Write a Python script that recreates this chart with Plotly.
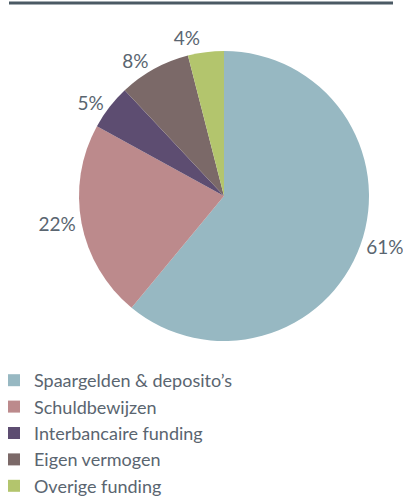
import plotly.graph_objects as go

categories = ["Spaargelden &amp; deposito’s", "Schuldbewijzen", "Interbancaire funding",
              "Eigen vermogen", "Overige funding"]
values = [61, 22, 5, 8, 4]
colors = ["#97b8c2", "#bc8a8c", "#5d4d71", "#7b6968", "#b3c56d"]

W, H = 403, 497
cx, cy, r = 224, 196, 145

fig = go.Figure(go.Pie(
    labels=categories,
    values=values,
    sort=False,
    direction="clockwise",
    rotation=0,
    marker=dict(colors=colors, line=dict(width=0)),
    texttemplate="%{value}%",
    textposition="outside",
    textfont=dict(size=19, color="#5a6570"),
    hoverinfo="none",
    automargin=False,
    domain=dict(x=[(cx - r) / W, (cx + r) / W], y=[1 - (cy + r) / H, 1 - (cy - r) / H]),
))

fig.add_shape(type="line", xref="paper", yref="paper",
              x0=9 / W, x1=393 / W, y0=1 - 3 / H, y1=1 - 3 / H,
              line=dict(color="#4b5a64", width=3))

fig.update_layout(
    width=W, height=H,
    margin=dict(l=0, r=0, t=0, b=0, autoexpand=False),
    paper_bgcolor="white",
    plot_bgcolor="white",
    font=dict(family="Lato", color="#5a6570"),
    showlegend=True,
    legend=dict(x=-6 / W, y=1 - 362 / H, xanchor="left", yanchor="top",
                font=dict(size=18, color="#5a6570"), bgcolor="rgba(0,0,0,0)"),
)

post = """
document.body.style.margin = '0';
document.documentElement.style.overflow = 'hidden';
document.querySelectorAll('path.textline').forEach(function(e){ e.style.display = 'none'; });
"""

fig.write_html("out.html", post_script=post, config={"displayModeBar": False})
